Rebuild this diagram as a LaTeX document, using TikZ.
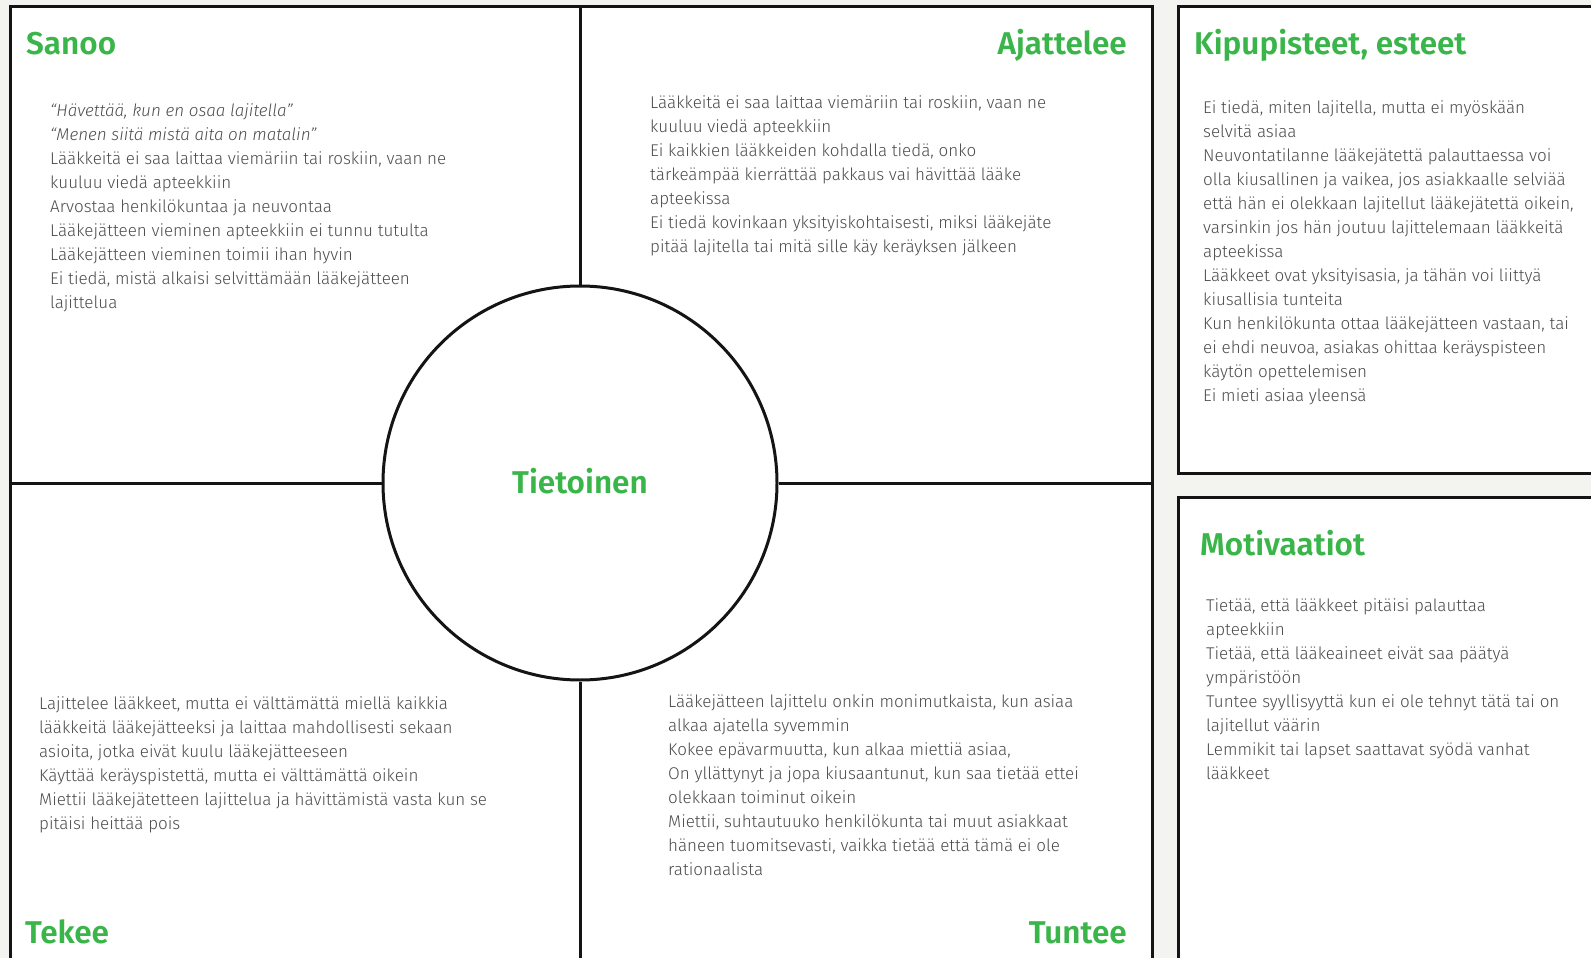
\documentclass[tikz,border=0pt]{standalone}
\usepackage{fontspec}
\IfFontExistsTF{Fira Sans Light}{\newfontfamily\bodyfont{Fira Sans Light}}{\newfontfamily\bodyfont{Fira Sans}}
\IfFontExistsTF{Fira Sans SemiBold}{\newfontfamily\headfont{Fira Sans SemiBold}}{\newfontfamily\headfont{Fira Sans Bold}}
\usetikzlibrary{positioning}

\definecolor{mapgreen}{HTML}{3AB54A}
\definecolor{notegray}{HTML}{4C4C4C}
\definecolor{pagebg}{HTML}{F3F4F0}

\tikzset{
  frame/.style={line width=3pt, draw=black!92},
  heading/.style={inner sep=0pt, text=mapgreen, font=\headfont\fontsize{31.5}{36}\selectfont},
  % anchored at the baseline of the last line
  notes/.style={inner sep=0pt, align=left, anchor=base west, text=notegray, font=\bodyfont\fontsize{17}{24}\selectfont},
}

\begin{document}
\begin{tikzpicture}[x=1pt, y=-1pt]
  %%%%% PAGE %%%%%
  \useasboundingbox (0,0) rectangle (1591,958);
  \clip (0,0) rectangle (1591,958);
  \fill[pagebg] (0,0) rectangle (1591,958);

  % empathy map frame and the two side boxes
  \fill[white] (10,7) rectangle (1152,980);
  \fill[white] (1178,7) rectangle (1620,473);
  \fill[white] (1178,497) rectangle (1620,980);
  \draw[frame] (10,980) -- (10,7) -- (1152,7) -- (1152,980);
  \draw[frame] (1620,473) -- (1178,473) -- (1178,7) -- (1620,7);
  \draw[frame] (1620,497) -- (1178,497) -- (1178,980);

  % centre circle with the cross lines
  \node[frame, circle, fill=white, minimum size=394pt, inner sep=0pt] (core) at (580,483) {};
  \coordinate (ntop) at (580,7);
  \coordinate (nbot) at (580,980);
  \coordinate (wleft) at (10,483);
  \coordinate (eright) at (1152,483);
  \draw[frame] (ntop) -- (core.north);
  \draw[frame] (core.south) -- (nbot);
  \draw[frame] (wleft) -- (core.west);
  \draw[frame] (core.east) -- (eright);
  \node[heading] (tietoinen) at (580,481) {Tietoinen};

  %%%%% HEADINGS %%%%%
  \node[heading, anchor=base west] (sanoo) at (26,55) {Sanoo};
  \node[heading, anchor=base east] (ajattelee) at (1127,55) {Ajattelee};
  \node[heading, anchor=base west] (tekee) at (25,943) {Tekee};
  \node[heading, anchor=base east] (tuntee) at (1127,943) {Tuntee};
  \node[heading, anchor=base west] (kipu) at (1194,55) {Kipupisteet, esteet};
  \node[heading, anchor=base west] (motiv) at (1200,555) {Motivaatiot};

  %%%%% NOTES %%%%%
  \node[notes] (sanooNotes) at (50,308) {%
    \itshape “Hävettää, kun en osaa lajitella”\\
    \itshape “Menen siitä mistä aita on matalin”\\
    Lääkkeitä ei saa laittaa viemäriin tai roskiin, vaan ne\\
    kuuluu viedä apteekkiin\\
    Arvostaa henkilökuntaa ja neuvontaa\\
    Lääkejätteen vieminen apteekkiin ei tunnu tutulta\\
    Lääkejätteen vieminen toimii ihan hyvin\\
    Ei tiedä, mistä alkaisi selvittämään lääkejätteen\\
    lajittelua};

  \node[notes] (ajatteleeNotes) at (650,252) {%
    Lääkkeitä ei saa laittaa viemäriin tai roskiin, vaan ne\\
    kuuluu viedä apteekkiin\\
    Ei kaikkien lääkkeiden kohdalla tiedä, onko\\
    tärkeämpää kierrättää pakkaus vai hävittää lääke\\
    apteekissa\\
    Ei tiedä kovinkaan yksityiskohtaisesti, miksi lääkejäte\\
    pitää lajitella tai mitä sille käy keräyksen jälkeen};

  \node[notes] (tekeeNotes) at (39,829) {%
    Lajittelee lääkkeet, mutta ei välttämättä miellä kaikkia\\
    lääkkeitä lääkejätteeksi ja laittaa mahdollisesti sekaan\\
    asioita, jotka eivät kuulu lääkejätteeseen\\
    Käyttää keräyspistettä, mutta ei välttämättä oikein\\
    Miettii lääkejätetteen lajittelua ja hävittämistä vasta kun se\\
    pitäisi heittää pois};

  \node[notes] (tunteeNotes) at (668,875) {%
    Lääkejätteen lajittelu onkin monimutkaista, kun asiaa\\
    alkaa ajatella syvemmin\\
    Kokee epävarmuutta, kun alkaa miettiä asiaa,\\
    On yllättynyt ja jopa kiusaantunut, kun saa tietää ettei\\
    olekkaan toiminut oikein\\
    Miettii, suhtautuuko henkilökunta tai muut asiakkaat\\
    häneen tuomitsevasti, vaikka tietää että tämä ei ole\\
    rationaalista};

  \node[notes] (kipuNotes) at (1203,401) {%
    Ei tiedä, miten lajitella, mutta ei myöskään\\
    selvitä asiaa\\
    Neuvontatilanne lääkejätettä palauttaessa voi\\
    olla kiusallinen ja vaikea, jos asiakkaalle selviää\\
    että hän ei olekkaan lajitellut lääkejätettä oikein,\\
    varsinkin jos hän joutuu lajittelemaan lääkkeitä\\
    apteekissa\\
    Lääkkeet ovat yksityisasia, ja tähän voi liittyä\\
    kiusallisia tunteita\\
    Kun henkilökunta ottaa lääkejätteen vastaan, tai\\
    ei ehdi neuvoa, asiakas ohittaa keräyspisteen\\
    käytön opettelemisen\\
    Ei mieti asiaa yleensä};

  \node[notes] (motivNotes) at (1206,779) {%
    Tietää, että lääkkeet pitäisi palauttaa\\
    apteekkiin\\
    Tietää, että lääkeaineet eivät saa päätyä\\
    ympäristöön\\
    Tuntee syyllisyyttä kun ei ole tehnyt tätä tai on\\
    lajitellut väärin\\
    Lemmikit tai lapset saattavat syödä vanhat\\
    lääkkeet};
\end{tikzpicture}
\end{document}
